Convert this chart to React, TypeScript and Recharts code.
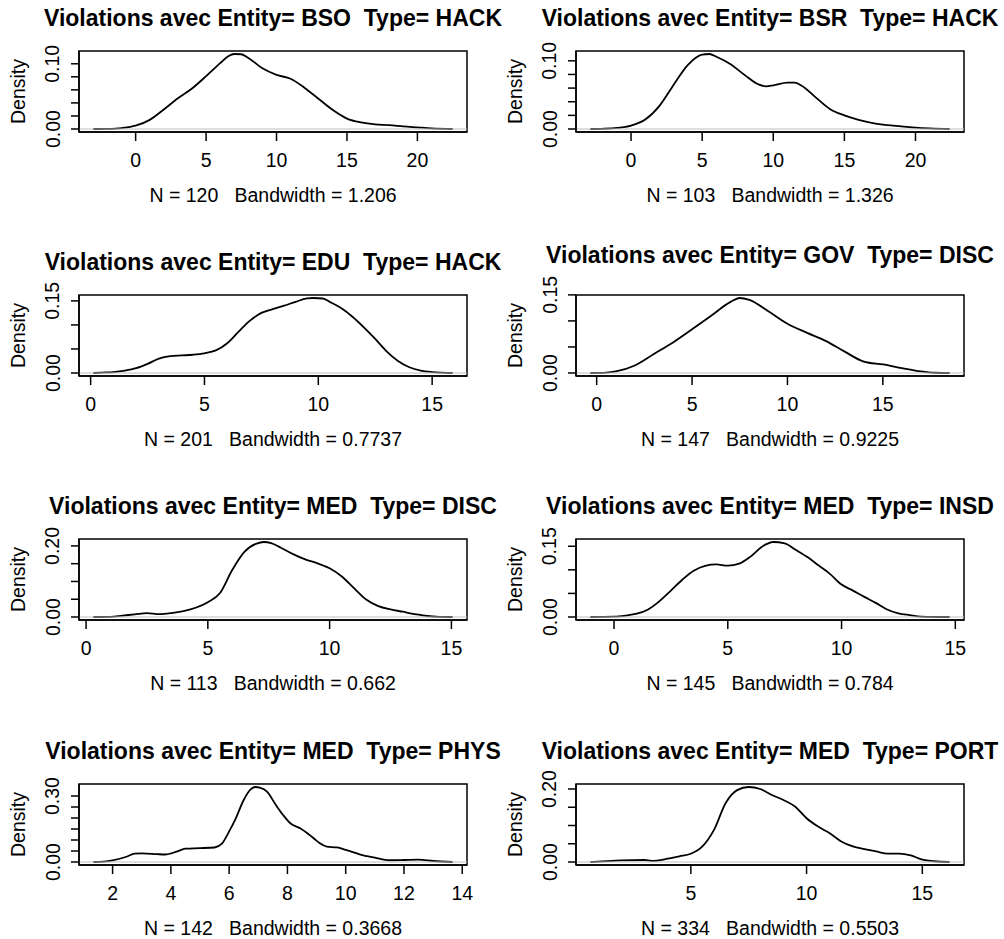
import React from 'react';
import { LineChart, Line, XAxis, YAxis, ReferenceLine, ReferenceArea } from 'recharts';

type Pt = [number, number];

// Courbes de densité (x, densité) par entité / type de violation
const BSO_HACK: Pt[] = [
  [-3.0, 0], [-2, 0.0003], [-1, 0.0015], [0, 0.005], [1, 0.014], [2, 0.03], [3, 0.047],
  [4, 0.062], [5, 0.081], [6, 0.101], [6.6, 0.112], [7, 0.115], [7.5, 0.1146], [8, 0.109],
  [9, 0.093], [10, 0.083], [11, 0.077], [12, 0.063], [13, 0.046], [14, 0.029], [15, 0.016],
  [16, 0.01], [17, 0.007], [18, 0.006], [19, 0.004], [20, 0.0025], [21, 0.001], [22.5, 0],
];

const BSR_HACK: Pt[] = [
  [-2.86, 0], [-2, 0.0003], [-1, 0.0015], [0, 0.005], [1, 0.014], [2, 0.034], [3, 0.065],
  [4, 0.094], [5, 0.109], [5.5, 0.11], [6, 0.106], [7, 0.095], [8, 0.079], [9, 0.065],
  [9.5, 0.0625], [10, 0.064], [11, 0.068], [11.5, 0.068], [12, 0.0635], [13, 0.046],
  [14, 0.029], [15, 0.02], [16, 0.0135], [17, 0.0087], [18, 0.0058], [19, 0.004],
  [20, 0.002], [21, 0.0008], [22.4, 0],
];

const EDU_HACK: Pt[] = [
  [0.12, 0], [0.5, 0.0008], [1, 0.002], [1.5, 0.005], [2, 0.01], [2.5, 0.019], [3, 0.03],
  [3.5, 0.035], [4, 0.0365], [4.5, 0.038], [5, 0.041], [5.5, 0.047], [6, 0.062], [6.5, 0.086],
  [7, 0.109], [7.5, 0.125], [8, 0.133], [8.5, 0.14], [9, 0.148], [9.5, 0.155], [9.8, 0.156],
  [10.2, 0.155], [10.5, 0.148], [11, 0.135], [11.5, 0.117], [12, 0.095], [12.5, 0.071],
  [13, 0.045], [13.5, 0.025], [14, 0.012], [14.5, 0.005], [15, 0.002], [15.9, 0],
];

const GOV_DISC: Pt[] = [
  [-0.33, 0], [0.5, 0.0008], [1, 0.003], [2, 0.0145], [3, 0.0365], [4, 0.0586], [5, 0.084],
  [6, 0.11], [7, 0.136], [7.5, 0.144], [8, 0.1405], [9, 0.1185], [10, 0.0945], [11, 0.0775],
  [12, 0.0617], [13, 0.041], [14, 0.022], [15, 0.0164], [16, 0.0095], [17, 0.003],
  [17.7, 0.0005], [18.5, 0],
];

const MED_DISC: Pt[] = [
  [0.3, 0], [1, 0.0005], [1.5, 0.004], [2, 0.0074], [2.5, 0.011], [3, 0.008], [3.5, 0.011],
  [4, 0.0167], [4.5, 0.026], [5, 0.0417], [5.5, 0.0676], [6, 0.132], [6.5, 0.183], [7, 0.2065],
  [7.3, 0.211], [7.6, 0.208], [8, 0.195], [8.5, 0.177], [9, 0.162], [9.5, 0.151], [10, 0.137],
  [10.5, 0.114], [11, 0.0815], [11.5, 0.049], [12, 0.0306], [12.5, 0.0213], [13, 0.0148],
  [13.5, 0.0083], [14, 0.0028], [14.5, 0.0005], [15.05, 0],
];

const MED_INSD: Pt[] = [
  [-1.04, 0], [0, 0.0007], [0.5, 0.003], [1, 0.007], [1.5, 0.016], [2, 0.0336], [2.5, 0.056],
  [3, 0.079], [3.5, 0.098], [4, 0.1086], [4.5, 0.1114], [5, 0.109], [5.5, 0.113], [6, 0.128],
  [6.5, 0.149], [7, 0.159], [7.5, 0.156], [8, 0.142], [8.5, 0.127], [9, 0.109], [9.5, 0.091],
  [10, 0.0687], [10.5, 0.056], [11, 0.0427], [11.5, 0.03], [12, 0.016], [12.5, 0.0077],
  [13, 0.004], [13.5, 0.001], [14.75, 0],
];

const MED_PHYS: Pt[] = [
  [1.34, 0], [1.7, 0.002], [2, 0.0075], [2.5, 0.025], [2.75, 0.038], [3, 0.039], [3.5, 0.036],
  [3.8, 0.034], [4.2, 0.047], [4.5, 0.061], [5, 0.063], [5.5, 0.066], [5.75, 0.083], [6, 0.139],
  [6.2, 0.19], [6.5, 0.282], [6.7, 0.325], [6.9, 0.341], [7.05, 0.338], [7.3, 0.32], [7.6, 0.26],
  [7.85, 0.214], [8.1, 0.176], [8.45, 0.152], [8.9, 0.108], [9.1, 0.086], [9.35, 0.07],
  [9.7, 0.066], [10, 0.055], [10.5, 0.034], [11, 0.02], [11.5, 0.008], [12, 0.009],
  [12.5, 0.0105], [13, 0.0045], [13.67, 0],
];

const MED_PORT: Pt[] = [
  [0.66, 0], [1, 0.001], [2, 0.0045], [3, 0.0055], [3.3, 0.003], [4, 0.009], [4.5, 0.0155],
  [5, 0.0227], [5.5, 0.0427], [6, 0.088], [6.5, 0.161], [7, 0.197], [7.5, 0.2055], [8, 0.2],
  [8.5, 0.1836], [9, 0.17], [9.5, 0.152], [10, 0.12], [10.5, 0.097], [11, 0.079], [11.5, 0.0564],
  [12, 0.0427], [12.5, 0.0355], [13, 0.029], [13.5, 0.0227], [14, 0.0227], [14.5, 0.018],
  [15, 0.0064], [15.5, 0.002], [16.18, 0],
];

// graduations des axes
const X_0_20 = [0, 5, 10, 15, 20];
const X_0_15 = [0, 5, 10, 15];
const X_2_14 = [2, 4, 6, 8, 10, 12, 14];
const X_5_15 = [5, 10, 15];
const Y_010 = [0, 0.02, 0.04, 0.06, 0.08, 0.1];
const Y_015 = [0, 0.05, 0.1, 0.15];
const Y_020 = [0, 0.05, 0.1, 0.15, 0.2];
const Y_030 = [0, 0.05, 0.1, 0.15, 0.2, 0.25, 0.3];

const PANELS = [
  { entity: 'BSO', type: 'HACK', n: 120, bw: '1.206', curve: BSO_HACK, xTicks: X_0_20, yTicks: Y_010, yLabels: [0, 0.1] },
  { entity: 'BSR', type: 'HACK', n: 103, bw: '1.326', curve: BSR_HACK, xTicks: X_0_20, yTicks: Y_010, yLabels: [0, 0.1] },
  { entity: 'EDU', type: 'HACK', n: 201, bw: '0.7737', curve: EDU_HACK, xTicks: X_0_15, yTicks: Y_015, yLabels: [0, 0.15] },
  { entity: 'GOV', type: 'DISC', n: 147, bw: '0.9225', curve: GOV_DISC, xTicks: X_0_15, yTicks: Y_015, yLabels: [0, 0.15] },
  { entity: 'MED', type: 'DISC', n: 113, bw: '0.662', curve: MED_DISC, xTicks: X_0_15, yTicks: Y_020, yLabels: [0, 0.2] },
  { entity: 'MED', type: 'INSD', n: 145, bw: '0.784', curve: MED_INSD, xTicks: X_0_15, yTicks: Y_015, yLabels: [0, 0.15] },
  { entity: 'MED', type: 'PHYS', n: 142, bw: '0.3668', curve: MED_PHYS, xTicks: X_2_14, yTicks: Y_030, yLabels: [0, 0.3] },
  { entity: 'MED', type: 'PORT', n: 334, bw: '0.5503', curve: MED_PORT, xTicks: X_5_15, yTicks: Y_020, yLabels: [0, 0.2] },
];

const W = 497;
const H = 206;
const PLOT_L = 79;
const PLOT_T = 51;
const PLOT_W = 388;
const PLOT_H = 81;
const COL_X = [0, 497];
const ROW_Y = [0, 244, 488, 733];
const FONT = '"Liberation Sans", Arial, Helvetica, sans-serif';
const AXIS_FS = 19.5;

const XTick = (props: any) => {
  const { x, y, payload } = props;
  return (
    <text x={x} y={y} textAnchor="middle" fontFamily={FONT} fontSize={AXIS_FS} fill="#000">
      {String(payload.value)}
    </text>
  );
};

const YTick = (props: any) => {
  const { x, y, payload, labels } = props;
  const shown = labels.some((v: number) => Math.abs(v - payload.value) < 1e-9);
  if (!shown) return <g />;
  return (
    <text
      x={x}
      y={y}
      transform={`rotate(-90 ${x} ${y})`}
      textAnchor="middle"
      fontFamily={FONT}
      fontSize={AXIS_FS}
      fill="#000"
    >
      {payload.value.toFixed(2)}
    </text>
  );
};

const Panel = ({ p, left, top, lift }: { p: any; left: number; top: number; lift: number }) => {
  const data = p.curve.map(([x, d]: Pt) => ({ x, d }));
  const x0 = p.curve[0][0];
  const x1 = p.curve[p.curve.length - 1][0];
  const padX = (x1 - x0) * 0.04;
  const ymax = Math.max(...p.curve.map((c: Pt) => c[1]));
  const xDomain = [x0 - padX, x1 + padX];
  const yDomain = [-0.04 * ymax, 1.04 * ymax];
  const cx = PLOT_L + PLOT_W / 2;
  const cy = PLOT_T + PLOT_H / 2;

  return (
    <div style={{ position: 'absolute', left, top, width: W, height: H }}>
      <LineChart
        width={W}
        height={H}
        data={data}
        margin={{ top: PLOT_T, right: W - PLOT_L - PLOT_W, bottom: 0, left: 0 }}
      >
        <XAxis
          type="number"
          dataKey="x"
          domain={xDomain}
          ticks={p.xTicks}
          interval={0}
          allowDataOverflow
          height={H - PLOT_T - PLOT_H}
          tickSize={9}
          tickMargin={25.5}
          axisLine={{ stroke: '#000', strokeWidth: 1.5 }}
          tickLine={{ stroke: '#000', strokeWidth: 1.5 }}
          tick={<XTick />}
        />
        <YAxis
          type="number"
          domain={yDomain}
          ticks={p.yTicks}
          interval={0}
          allowDataOverflow
          width={PLOT_L}
          tickSize={8}
          tickMargin={11.5}
          axisLine={{ stroke: '#000', strokeWidth: 1.5 }}
          tickLine={{ stroke: '#000', strokeWidth: 1.5 }}
          tick={(tp: any) => <YTick {...tp} labels={p.yLabels} />}
        />
        <ReferenceArea
          x1={xDomain[0]}
          x2={xDomain[1]}
          y1={yDomain[0]}
          y2={yDomain[1]}
          fill="none"
          fillOpacity={0}
          stroke="#000"
          strokeWidth={1.5}
          ifOverflow="visible"
        />
        <Line
          type="monotone"
          dataKey="d"
          stroke="#000"
          strokeWidth={1.8}
          dot={false}
          isAnimationActive={false}
        />
        <ReferenceLine y={0} stroke="#bebebe" strokeWidth={1} />
      </LineChart>
      {/* titre, libellé de l'axe y et sous-titre */}
      <svg
        width={W}
        height={H}
        style={{ position: 'absolute', left: 0, top: 0, pointerEvents: 'none', overflow: 'visible' }}
      >
        <text
          x={cx}
          y={PLOT_T - 25 - lift}
          textAnchor="middle"
          fontFamily={FONT}
          fontWeight="bold"
          fontSize={23}
          style={{ whiteSpace: 'pre' }}
        >
          {`Violations avec Entity= ${p.entity}  Type= ${p.type}`}
        </text>
        <text
          x={24.5}
          y={cy}
          transform={`rotate(-90 24.5 ${cy})`}
          textAnchor="middle"
          fontFamily={FONT}
          fontSize={AXIS_FS}
        >
          Density
        </text>
        <text
          x={cx}
          y={PLOT_T + PLOT_H + 69.5}
          textAnchor="middle"
          fontFamily={FONT}
          fontSize={AXIS_FS}
          style={{ whiteSpace: 'pre' }}
        >
          {`N = ${p.n}   Bandwidth = ${p.bw}`}
        </text>
      </svg>
    </div>
  );
}

export default function App() {
  return (
    <div
      style={{
        position: 'absolute',
        left: 0,
        top: 0,
        width: 1004,
        height: 939,
        overflow: 'hidden',
        background: '#fff',
      }}
    >
      {PANELS.map((p, i) => (
        <Panel
          key={i}
          p={p}
          left={COL_X[i % 2]}
          top={ROW_Y[Math.floor(i / 2)]}
          lift={p.entity === 'GOV' ? 7 : 0}
        />
      ))}
    </div>
  );
}
